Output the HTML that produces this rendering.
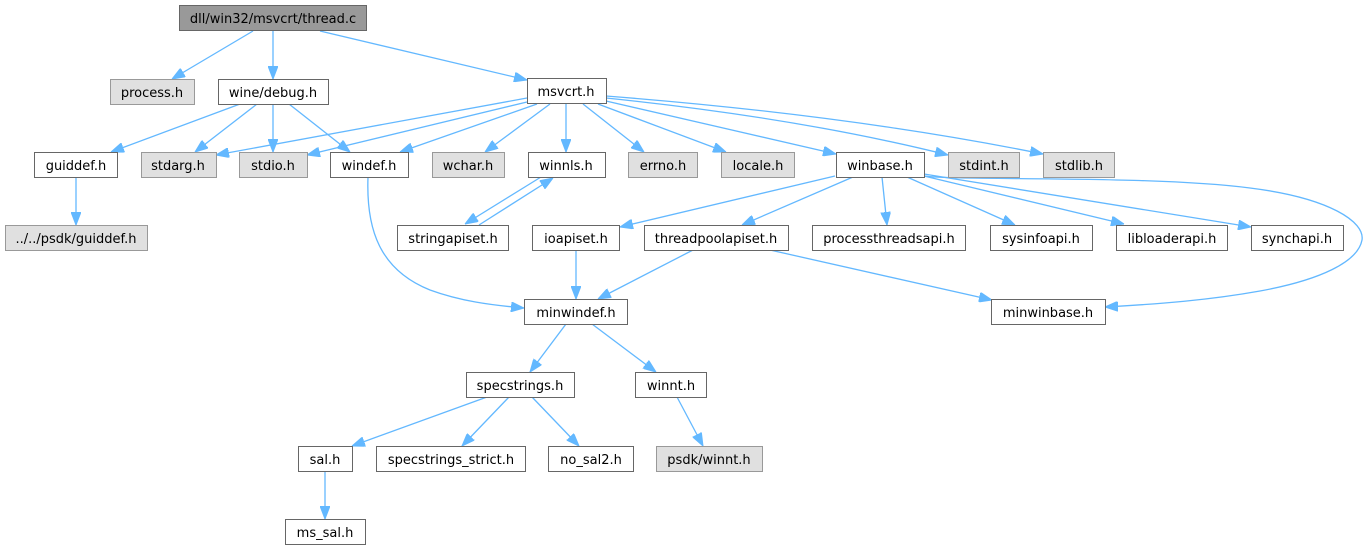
<!DOCTYPE html>
<html>
<head>
<meta charset="utf-8">
<style>
html,body{margin:0;padding:0;background:#fff;}
svg{display:block;}
text{font-family:"DejaVu Sans","Liberation Sans",sans-serif;font-size:13px;fill:#000;text-anchor:middle;}
.w{fill:#fff;stroke:#666;stroke-width:1;}
.g{fill:#e0e0e0;stroke:#999;stroke-width:1;}
.r{fill:#999;stroke:#666;stroke-width:1;}
.e{fill:none;stroke:#63b8ff;stroke-width:1.3;marker-end:url(#a);}
</style>
</head>
<body>
<svg width="1367" height="549" viewBox="0 0 1367 549" xmlns="http://www.w3.org/2000/svg">
<defs>
<marker id="a" viewBox="0 0 13 10" refX="13" refY="5" markerWidth="13" markerHeight="10" markerUnits="userSpaceOnUse" orient="auto">
<path d="M0,0 L13,5 L0,10 z" fill="#63b8ff" stroke="#63b8ff" stroke-width="1"/>
</marker>
</defs>

<!-- edges -->
<path class="e" d="M253,31 L172,79"/>
<path class="e" d="M273,31 L273,79"/>
<path class="e" d="M320,31 L527,80"/>
<path class="e" d="M240,104 L111,152"/>
<path class="e" d="M257,104 L195,152"/>
<path class="e" d="M273,104 L273,152"/>
<path class="e" d="M289,104 L350,152"/>
<path class="e" d="M76,177 L76,225"/>

<path class="e" d="M527,98 L216,155"/>
<path class="e" d="M527,102 L307,155"/>
<path class="e" d="M537,104 L400,152"/>
<path class="e" d="M550,104 L485,152"/>
<path class="e" d="M566,104 L566,152"/>
<path class="e" d="M583,104 L644,152"/>
<path class="e" d="M598,104 L726,152"/>
<path class="e" d="M606,101 L836,154"/>
<path class="e" d="M606,98 Q800,118 948,155"/>
<path class="e" d="M606,96 Q850,115 1043,154"/>

<path class="e" d="M541,177 L465,224"/>
<path class="e" d="M479,225 L553,178"/>

<path class="e" d="M368,177 C366,230 380,270 430,290 C460,301 490,305 524,308"/>

<path class="e" d="M835,176 L620,227"/>
<path class="e" d="M853,177 L742,225"/>
<path class="e" d="M882,177 L887,225"/>
<path class="e" d="M907,177 L1015,225"/>
<path class="e" d="M924,176 L1124,224"/>
<path class="e" d="M924,174 L1251,227"/>
<path class="e" d="M924,176 C960,181 1150,175 1250,188 C1330,198 1365,222 1362,240 C1358,262 1320,280 1260,291 C1210,300 1160,304 1105,307"/>

<path class="e" d="M576,250 L576,299"/>
<path class="e" d="M693,250 L598,299"/>
<path class="e" d="M770,250 L992,300"/>

<path class="e" d="M566,324 L530,372"/>
<path class="e" d="M592,324 L656,372"/>
<path class="e" d="M487,397 L352,446"/>
<path class="e" d="M509,397 L462,446"/>
<path class="e" d="M532,397 L579,446"/>
<path class="e" d="M677,397 L703,446"/>
<path class="e" d="M325,471 L325,519"/>

<!-- nodes -->
<rect class="r" x="179.5" y="5.5" width="187" height="25"/><text x="273" y="23">dll/win32/msvcrt/thread.c</text>

<rect class="g" x="110.5" y="79.5" width="84" height="25"/><text x="152" y="97">process.h</text>
<rect class="w" x="218.5" y="79.5" width="110" height="25"/><text x="273" y="97">wine/debug.h</text>
<rect class="w" x="527.5" y="78.5" width="79" height="25"/><text x="566" y="96">msvcrt.h</text>

<rect class="w" x="34.5" y="152.5" width="83" height="25"/><text x="76" y="170">guiddef.h</text>
<rect class="g" x="141.5" y="152.5" width="75" height="25"/><text x="178" y="170">stdarg.h</text>
<rect class="g" x="239.5" y="152.5" width="68" height="25"/><text x="273" y="170">stdio.h</text>
<rect class="w" x="330.5" y="152.5" width="78" height="25"/><text x="369" y="170">windef.h</text>
<rect class="g" x="432.5" y="152.5" width="72" height="25"/><text x="468" y="170">wchar.h</text>
<rect class="w" x="528.5" y="152.5" width="77" height="25"/><text x="566" y="170">winnls.h</text>
<rect class="g" x="628.5" y="152.5" width="69" height="25"/><text x="663" y="170">errno.h</text>
<rect class="g" x="721.5" y="152.5" width="73" height="25"/><text x="758" y="170">locale.h</text>
<rect class="w" x="836.5" y="152.5" width="88" height="25"/><text x="880" y="170">winbase.h</text>
<rect class="g" x="948.5" y="152.5" width="71" height="25"/><text x="984" y="170">stdint.h</text>
<rect class="g" x="1043.5" y="152.5" width="71" height="25"/><text x="1079" y="170">stdlib.h</text>

<rect class="g" x="5.5" y="225.5" width="142" height="25"/><text x="76" y="243">../../psdk/guiddef.h</text>
<rect class="w" x="397.5" y="225.5" width="111" height="25"/><text x="453" y="243">stringapiset.h</text>
<rect class="w" x="532.5" y="225.5" width="87" height="25"/><text x="576" y="243">ioapiset.h</text>
<rect class="w" x="644.5" y="225.5" width="144" height="25"/><text x="716" y="243">threadpoolapiset.h</text>
<rect class="w" x="812.5" y="225.5" width="153" height="25"/><text x="889" y="243">processthreadsapi.h</text>
<rect class="w" x="990.5" y="225.5" width="102" height="25"/><text x="1041" y="243">sysinfoapi.h</text>
<rect class="w" x="1116.5" y="225.5" width="111" height="25"/><text x="1172" y="243">libloaderapi.h</text>
<rect class="w" x="1251.5" y="225.5" width="92" height="25"/><text x="1297" y="243">synchapi.h</text>

<rect class="w" x="524.5" y="299.5" width="103" height="25"/><text x="576" y="317">minwindef.h</text>
<rect class="w" x="991.5" y="299.5" width="114" height="25"/><text x="1048" y="317">minwinbase.h</text>

<rect class="w" x="466.5" y="372.5" width="108" height="25"/><text x="520" y="390">specstrings.h</text>
<rect class="w" x="635.5" y="372.5" width="71" height="25"/><text x="671" y="390">winnt.h</text>

<rect class="w" x="298.5" y="446.5" width="54" height="25"/><text x="325" y="464">sal.h</text>
<rect class="w" x="376.5" y="446.5" width="149" height="25"/><text x="451" y="464">specstrings_strict.h</text>
<rect class="w" x="548.5" y="446.5" width="85" height="25"/><text x="591" y="464">no_sal2.h</text>
<rect class="g" x="656.5" y="446.5" width="106" height="25"/><text x="709" y="464">psdk/winnt.h</text>

<rect class="w" x="285.5" y="519.5" width="80" height="25"/><text x="325" y="537">ms_sal.h</text>
</svg>
</body>
</html>
